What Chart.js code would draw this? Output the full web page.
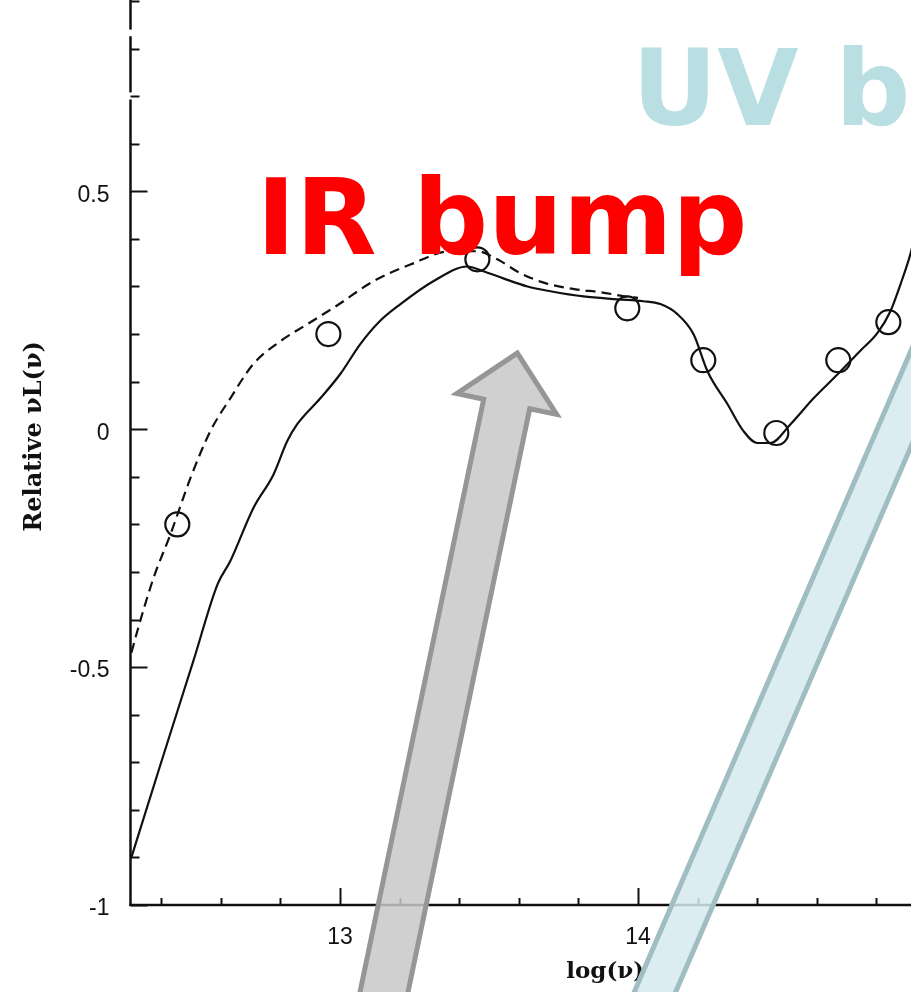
<!DOCTYPE html>
<html>
<head>
<meta charset="utf-8">
<script src="https://cdn.jsdelivr.net/npm/chart.js@4.4.1/dist/chart.umd.min.js"></script>
<style>
  html, body { margin: 0; padding: 0; background: #fff; }
  #wrap { width: 911px; height: 992px; }
</style>
</head>
<body>
<div id="wrap"><canvas id="sed"></canvas></div>
<script>
// model SED (solid line)
const modelX = [12.30, 12.40, 12.508, 12.589, 12.632, 12.709, 12.777, 12.823, 12.857, 12.934, 13.001, 13.068,
                13.13, 13.203, 13.313, 13.427, 13.481, 13.548, 13.629, 13.706, 13.817, 13.931, 14.018, 14.075,
                14.132, 14.186, 14.233, 14.30, 14.354, 14.40, 14.444, 14.511, 14.589, 14.669, 14.746, 14.803,
                14.847, 14.881, 14.914, 14.95];
const modelY = [-0.90, -0.70, -0.487, -0.326, -0.277, -0.166, -0.095, -0.025, 0.011, 0.065, 0.116, 0.179,
                0.225, 0.263, 0.311, 0.342, 0.332, 0.317, 0.300, 0.290, 0.279, 0.273, 0.269, 0.263,
                0.242, 0.200, 0.122, 0.053, -0.004, -0.029, -0.029, 0.010, 0.065, 0.115, 0.165, 0.202,
                0.248, 0.305, 0.368, 0.46];

// second model (dashed line)
const altX = [12.30, 12.32, 12.374, 12.431, 12.498, 12.565, 12.632, 12.709, 12.80, 12.891, 12.99, 13.112,
              13.236, 13.37, 13.461, 13.528, 13.605, 13.689, 13.79, 13.874, 13.958, 14.0];
const altY = [-0.47, -0.424, -0.313, -0.221, -0.103, -0.004, 0.065, 0.137, 0.185, 0.221, 0.26, 0.311,
              0.346, 0.374, 0.374, 0.357, 0.328, 0.307, 0.294, 0.288, 0.279, 0.276];

// observed points (open circles)
const obsX = [12.454, 12.961, 13.461, 13.964, 14.219, 14.464, 14.672, 14.840];
const obsY = [-0.200, 0.200, 0.357, 0.254, 0.145, -0.008, 0.145, 0.225];

const xTickValues = [13, 14];
const xTickLabels = ['13', '14'];
const yTickValues = [-1, -0.5, 0, 0.5];
const yTickLabels = ['-1', '-0.5', '0', '0.5'];

// overlay labels, anchored in data units (left edge, baseline)
const noteText = ['IR bump', 'UV bump'];
const noteX = [12.72, 13.98];
const noteY = [0.368, 0.639];

// block arrows, tail -> tip in data units
const arrowTailX = [13.142, 14.045];
const arrowTailY = [-1.2, -1.2];
const arrowTipX = [13.595, 15.216];
const arrowTipY = [0.16, 0.5];

const pts = (xs, ys) => xs.map((x, i) => ({ x: x, y: ys[i] }));

function drawArrow(ctx, x0, y0, x1, y1, w, hw, hl, fill, stroke) {
    const dx = x1 - x0, dy = y1 - y0;
    const len = Math.hypot(dx, dy);
    const ux = dx / len, uy = dy / len;
    const px = -uy, py = ux;
    const bx = x1 - ux * hl, by = y1 - uy * hl;
    ctx.beginPath();
    ctx.moveTo(x0 + px * w, y0 + py * w);
    ctx.lineTo(bx + px * w, by + py * w);
    ctx.lineTo(bx + px * hw, by + py * hw);
    ctx.lineTo(x1, y1);
    ctx.lineTo(bx - px * hw, by - py * hw);
    ctx.lineTo(bx - px * w, by - py * w);
    ctx.lineTo(x0 - px * w, y0 - py * w);
    ctx.closePath();
    ctx.fillStyle = fill;
    ctx.fill();
    ctx.lineWidth = 5;
    ctx.lineJoin = 'miter';
    ctx.strokeStyle = stroke;
    ctx.stroke();
}

// axes with inward ticks, like the scanned plot
const axesPlugin = {
    id: 'axesPlugin',
    beforeDatasetsDraw(chart) {
        const ctx = chart.ctx;
        const xs = chart.scales.x, ys = chart.scales.y;
        const a = chart.chartArea;
        ctx.save();
        ctx.strokeStyle = '#111';
        ctx.lineCap = 'butt';

        // y axis (broken near the top in the scan)
        ctx.lineWidth = 2.5;
        [[-1, 0.693], [0.71, 0.826], [0.842, 0.92]].forEach(seg => {
            ctx.beginPath();
            ctx.moveTo(a.left, ys.getPixelForValue(seg[0]) + 1);
            ctx.lineTo(a.left, Math.max(0, ys.getPixelForValue(seg[1])));
            ctx.stroke();
        });
        // x axis
        ctx.beginPath();
        ctx.moveTo(a.left - 1, a.bottom);
        ctx.lineTo(a.right, a.bottom);
        ctx.stroke();

        ctx.lineWidth = 2;
        for (let i = 0; i <= 19; i++) {
            const v = -1 + i * 0.1;
            const y = Math.round(ys.getPixelForValue(v)) + 0.5;
            const len = i % 5 === 0 ? 17 : 9;
            ctx.beginPath();
            ctx.moveTo(a.left, y);
            ctx.lineTo(a.left + len, y);
            ctx.stroke();
        }
        for (let i = 0; i <= 12; i++) {
            const v = 12.4 + i * 0.2;
            const x = Math.round(xs.getPixelForValue(v)) + 0.5;
            const len = Math.abs(v - Math.round(v)) < 1e-6 ? 17 : 7;
            ctx.beginPath();
            ctx.moveTo(x, a.bottom);
            ctx.lineTo(x, a.bottom - len);
            ctx.stroke();
        }

        // tick labels
        ctx.fillStyle = '#111';
        ctx.textBaseline = 'middle';
        ctx.font = '23px "Liberation Sans"';
        ctx.textAlign = 'right';
        yTickValues.forEach((v, i) => {
            ctx.fillText(yTickLabels[i], a.left - 21, ys.getPixelForValue(v) + 4);
        });
        ctx.textAlign = 'center';
        xTickValues.forEach((v, i) => {
            ctx.fillText(xTickLabels[i], xs.getPixelForValue(v), a.bottom + 33);
        });

        // axis titles
        ctx.font = 'bold 23px "DejaVu Serif"';
        ctx.textBaseline = 'alphabetic';
        ctx.fillText('log(\u03BD)', xs.getPixelForValue(13.89), a.bottom + 73);
        ctx.save();
        ctx.translate(41, ys.getPixelForValue(-0.015));
        ctx.rotate(-Math.PI / 2);
        ctx.font = 'bold 24px "DejaVu Serif"';
        ctx.fillText('Relative \u03BDL(\u03BD)', 0, 0);
        ctx.restore();
        ctx.restore();
    },
    afterDraw(chart) {
        const ctx = chart.ctx;
        const xs = chart.scales.x, ys = chart.scales.y;
        ctx.save();
        ctx.font = 'bold 105px "DejaVu Sans"';
        ctx.textAlign = 'left';
        ctx.textBaseline = 'alphabetic';
        const noteColor = ['#ff0000', '#b9dfe3'];
        noteText.forEach((t, i) => {
            ctx.fillStyle = noteColor[i];
            ctx.fillText(t, xs.getPixelForValue(noteX[i]), ys.getPixelForValue(noteY[i]));
        });

        drawArrow(ctx,
            xs.getPixelForValue(arrowTailX[0]), ys.getPixelForValue(arrowTailY[0]),
            xs.getPixelForValue(arrowTipX[0]), ys.getPixelForValue(arrowTipY[0]),
            23.5, 51, 52, 'rgba(200, 200, 200, 0.85)', '#969696');
        drawArrow(ctx,
            xs.getPixelForValue(arrowTailX[1]), ys.getPixelForValue(arrowTailY[1]),
            xs.getPixelForValue(arrowTipX[1]), ys.getPixelForValue(arrowTipY[1]),
            19, 50, 50, 'rgba(213, 234, 238, 0.85)', '#a0bec2');
        ctx.restore();
    }
};

new Chart(document.getElementById('sed'), {
    type: 'line',
    data: {
        datasets: [
            {
                label: 'model',
                data: pts(modelX, modelY),
                borderColor: '#111',
                borderWidth: 2.2,
                pointRadius: 0,
                fill: false,
                cubicInterpolationMode: 'monotone'
            },
            {
                label: 'alt model',
                data: pts(altX, altY),
                borderColor: '#111',
                borderWidth: 2.2,
                borderDash: [10, 6],
                pointRadius: 0,
                fill: false,
                cubicInterpolationMode: 'monotone'
            },
            {
                label: 'observed',
                data: pts(obsX, obsY),
                showLine: false,
                pointRadius: 12,
                pointBorderWidth: 2.2,
                pointBorderColor: '#111',
                pointBackgroundColor: 'rgba(0,0,0,0)'
            }
        ]
    },
    options: {
        responsive: true,
        maintainAspectRatio: false,
        devicePixelRatio: 1,
        animation: false,
        layout: { autoPadding: false, padding: { top: 1, right: 0, left: 0, bottom: 0 } },
        plugins: {
            legend: { display: false },
            tooltip: { enabled: false }
        },
        scales: {
            x: {
                type: 'linear',
                min: 12.297,
                max: 14.916,
                grid: { display: false },
                border: { display: false },
                ticks: { display: false },
                afterFit: s => { s.height = 87; }
            },
            y: {
                type: 'linear',
                min: -1,
                max: 0.9,
                grid: { display: false },
                border: { display: false },
                ticks: { display: false },
                afterFit: s => { s.width = 130.5; }
            }
        }
    },
    plugins: [axesPlugin]
});
</script>
</body>
</html>
